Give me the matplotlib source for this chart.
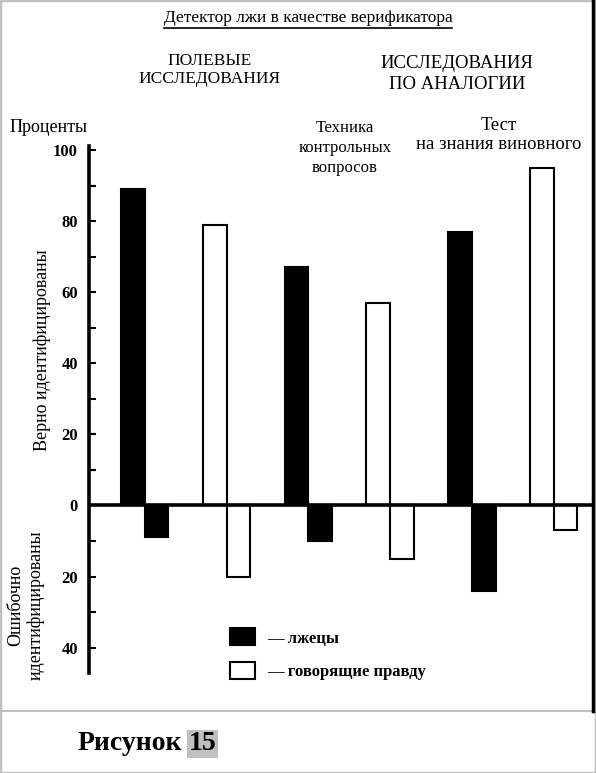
import numpy as np
import matplotlib.pyplot as plt
from matplotlib.patches import Rectangle, Patch
from matplotlib.lines import Line2D

plt.rcParams['font.family'] = ['Liberation Serif', 'DejaVu Serif']

# --- Данные (проценты) ---
# порядок: полевые / аналог. техника контр. вопросов / аналог. тест на знание виновного
subjects = ['лжецы', 'говорящие правду']
correct = [89, 79, 67, 57, 77, 95]   # верно идентифицированы
wrong = [9, 20, 10, 15, 24, 7]       # ошибочно идентифицированы
fills = ['black', 'white', 'black', 'white', 'black', 'white']
yticks = [-40, -20, 0, 20, 40, 60, 80, 100]

W, H = 596, 773


def fx(x):
    return x / W


def fy(y):
    return 1 - y / H


fig = plt.figure(figsize=(W / 100, H / 100), dpi=100)
ax = fig.add_axes([fx(89), fy(672.6), 504 / W, 526.2 / H])

x = np.arange(len(correct))
w = 0.29
ax.bar(x, correct, w, align='edge', color=fills, edgecolor='black', lw=1.5, zorder=2)
ax.bar(x + w, [-v for v in wrong], w, align='edge', color=fills, edgecolor='black', lw=1.5, zorder=2)
ax.axhline(0, color='black', lw=2.6, zorder=3)

ax.set_xlim(-0.391, 5.77)
ax.set_ylim(-47, 101)
for s in ['top', 'right', 'bottom']:
    ax.spines[s].set_visible(False)
ax.spines['left'].set_linewidth(2.6)
ax.set_xticks([])
ax.set_yticks(yticks)
ax.set_yticklabels([str(abs(v)) for v in yticks], fontsize=12, fontweight='bold')
ax.set_yticks(range(-40, 101, 10), minor=True)
ax.tick_params(axis='y', which='both', direction='in', length=5, width=1.5, pad=8)

# --- Подписи ---
t = fig.text(fx(308), fy(18), 'Детектор лжи в качестве верификатора', ha='center', va='center', fontsize=12.5)
fig.text(fx(210), fy(70), 'ПОЛЕВЫЕ\nИССЛЕДОВАНИЯ', ha='center', va='center', fontsize=12.5, linespacing=1.2)
fig.text(fx(457), fy(74), 'ИССЛЕДОВАНИЯ\nПО АНАЛОГИИ', ha='center', va='center', fontsize=13.5, linespacing=1.25)
fig.text(fx(10), fy(127), 'Проценты', ha='left', va='center', fontsize=13)
fig.text(fx(345), fy(148), 'Техника\nконтрольных\nвопросов', ha='center', va='center', fontsize=12, linespacing=1.35)
fig.text(fx(499), fy(135), 'Тест\nна знания виновного', ha='center', va='center', fontsize=13.5, linespacing=1.2)
fig.text(fx(42), fy(350), 'Верно идентифицированы', rotation=90, ha='center', va='center', fontsize=13)
fig.text(fx(26), fy(605), 'Ошибочно\nидентифицированы', rotation=90, ha='center', va='center', fontsize=13, linespacing=1.2)

fig.canvas.draw()
bb = t.get_window_extent().transformed(fig.transFigure.inverted())
fig.add_artist(Line2D([bb.x0, bb.x1], [bb.y0 - 0.002, bb.y0 - 0.002], color='black', lw=1.2))

handles = [Patch(facecolor=c, edgecolor='black', lw=1.5) for c in ['black', 'white']]
fig.legend(handles, ['— ' + s for s in subjects], loc='upper left', bbox_to_anchor=(fx(222), fy(620)),
           frameon=False, prop={'size': 12, 'weight': 'bold'}, handlelength=1.5, handleheight=1.2,
           handletextpad=0.7, labelspacing=0.9, borderpad=0)

# --- Рамка и номер рисунка ---
fig.add_artist(Rectangle((0, 0), 1, 1, transform=fig.transFigure, fill=False, ec='#c0c0c0', lw=2.5))
fig.add_artist(Line2D([0, fx(593)], [fy(711), fy(711)], color='#c0c0c0', lw=1.5))
fig.add_artist(Line2D([fx(593), fx(593)], [1, fy(711)], color='black', lw=2.5))

r = fig.text(fx(78), fy(744), 'Рисунок', ha='left', va='center', fontsize=20, fontweight='bold')
fig.canvas.draw()
rb = r.get_window_extent().transformed(fig.transFigure.inverted())
fig.text(rb.x1 + 0.01, fy(744), '15', ha='left', va='center', fontsize=20, fontweight='bold',
         bbox=dict(facecolor='#c0c0c0', edgecolor='none', pad=1))

fig.savefig('out.png', dpi=100)
